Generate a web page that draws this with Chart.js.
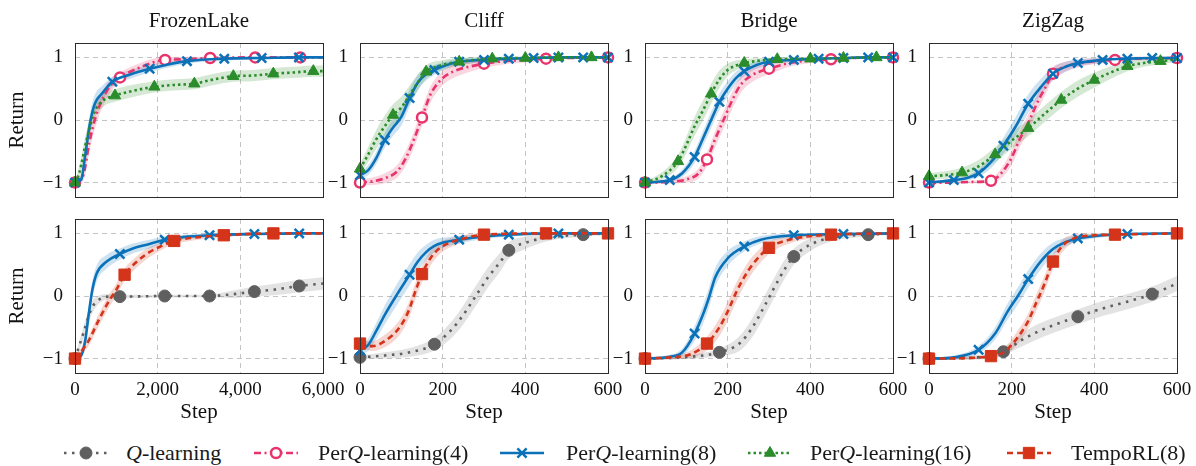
<!DOCTYPE html>
<html>
<head>
<meta charset="utf-8">
<script src="https://cdn.jsdelivr.net/npm/chart.js@4/dist/chart.umd.min.js"></script>
<style>
html, body { margin: 0; padding: 0; background: #fff; overflow: hidden; width: 1196px; height: 466px; }
canvas { position: absolute; }
.legtxt { position: absolute; font-family: 'Liberation Serif', 'Times New Roman', serif; font-size: 22px; color: #1a1a1a; white-space: nowrap; line-height: 24px; }
</style>
</head>
<body>
<script>
// ---- data ----
// x ticks
var lakeTicks = [0, 2000, 4000, 6000];
var stepTicks = [0, 200, 400, 600];
var yTicks = [-1, 0, 1];
var titles = ['FrozenLake', 'Cliff', 'Bridge', 'ZigZag'];
var legendNames = ['Q-learning', 'PerQ-learning(4)', 'PerQ-learning(8)', 'PerQ-learning(16)', 'TempoRL(8)'];

// FrozenLake, top row
var flTopP4X = [0, 200, 350, 500, 700, 900, 1090, 1500, 2180, 2700, 3270, 4360, 5450, 6000];
var flTopP4Y = [-1, -0.88, -0.35, 0.05, 0.38, 0.58, 0.68, 0.82, 0.96, 0.97, 0.99, 1, 1, 1];
var flTopP4Sd = [0.02, 0.1, 0.15, 0.15, 0.12, 0.1, 0.08, 0.07, 0.05, 0.04, 0.02, 0.01, 0.01, 0.01];
var flTopP4M = [0, 1090, 2180, 3270, 4360, 5450];
var flTopP8X = [0, 150, 250, 350, 450, 525, 650, 903, 1300, 1806, 2200, 2709, 3612, 4515, 5418, 6000];
var flTopP8Y = [-1, -0.95, -0.55, -0.1, 0.2, 0.32, 0.42, 0.61, 0.72, 0.82, 0.88, 0.94, 0.98, 0.99, 1, 1];
var flTopP8Sd = [0.02, 0.05, 0.12, 0.15, 0.15, 0.14, 0.12, 0.08, 0.07, 0.06, 0.05, 0.04, 0.03, 0.02, 0.01, 0.01];
var flTopP8M = [0, 903, 1806, 2709, 3612, 4515, 5418];
var flTopP16X = [0, 100, 280, 480, 700, 968, 1300, 1919, 2400, 2887, 3300, 3831, 4300, 4799, 5300, 5766, 6000];
var flTopP16Y = [-1, -0.85, -0.32, 0.14, 0.32, 0.39, 0.45, 0.53, 0.56, 0.58, 0.64, 0.7, 0.71, 0.74, 0.76, 0.78, 0.78];
var flTopP16Sd = [0.02, 0.1, 0.15, 0.12, 0.1, 0.1, 0.1, 0.09, 0.09, 0.09, 0.09, 0.09, 0.09, 0.09, 0.09, 0.09, 0.09];
var flTopP16M = [0, 968, 1919, 2887, 3831, 4799, 5766];

// Cliff, top row
var clTopP4X = [0, 30, 60, 90, 110, 130, 150, 170, 190, 210, 240, 270, 300, 350, 400, 450, 500, 600];
var clTopP4Y = [-1, -0.98, -0.93, -0.82, -0.62, -0.32, 0.04, 0.4, 0.6, 0.72, 0.81, 0.86, 0.9, 0.94, 0.96, 0.98, 0.99, 1];
var clTopP4Sd = [0.05, 0.06, 0.08, 0.1, 0.12, 0.13, 0.13, 0.13, 0.12, 0.11, 0.1, 0.08, 0.07, 0.05, 0.04, 0.03, 0.02, 0.01];
var clTopP4M = [0, 150, 300, 450, 600];
var clTopP8X = [0, 20, 40, 60, 80, 100, 120, 140, 160, 180, 210, 240, 300, 360, 420, 480, 540, 600];
var clTopP8Y = [-0.88, -0.8, -0.6, -0.32, -0.12, 0.05, 0.35, 0.6, 0.73, 0.8, 0.88, 0.93, 0.96, 0.98, 0.99, 1, 1, 1];
var clTopP8Sd = [0.06, 0.08, 0.1, 0.12, 0.13, 0.14, 0.14, 0.12, 0.1, 0.08, 0.06, 0.05, 0.04, 0.03, 0.02, 0.02, 0.01, 0.01];
var clTopP8M = [0, 60, 120, 180, 240, 300, 360, 420, 480, 540, 600];
var clTopP16X = [0, 20, 40, 60, 80, 100, 120, 140, 160, 200, 240, 320, 400, 480, 560, 600];
var clTopP16Y = [-0.78, -0.55, -0.3, -0.1, 0.08, 0.2, 0.4, 0.6, 0.77, 0.88, 0.93, 0.98, 0.99, 1, 1, 1];
var clTopP16Sd = [0.08, 0.12, 0.15, 0.17, 0.17, 0.17, 0.15, 0.13, 0.11, 0.08, 0.06, 0.03, 0.02, 0.01, 0.01, 0.01];
var clTopP16M = [0, 80, 160, 240, 320, 400, 480, 560];

// Bridge, top row
var brTopP4X = [0, 50, 100, 130, 150, 170, 190, 210, 230, 260, 300, 350, 400, 450, 500, 600];
var brTopP4Y = [-1, -0.99, -0.95, -0.85, -0.63, -0.3, 0.0, 0.3, 0.55, 0.72, 0.82, 0.91, 0.95, 0.97, 0.99, 1];
var brTopP4Sd = [0.02, 0.03, 0.05, 0.08, 0.11, 0.13, 0.14, 0.14, 0.13, 0.11, 0.09, 0.06, 0.04, 0.03, 0.02, 0.01];
var brTopP4M = [0, 150, 300, 450, 600];
var brTopP8X = [0, 60, 90, 120, 140, 160, 180, 200, 220, 240, 270, 300, 360, 420, 480, 540, 600];
var brTopP8Y = [-1, -0.96, -0.85, -0.59, -0.3, 0.0, 0.29, 0.5, 0.67, 0.78, 0.88, 0.93, 0.96, 0.98, 0.99, 1, 1];
var brTopP8Sd = [0.02, 0.03, 0.06, 0.1, 0.12, 0.13, 0.13, 0.12, 0.1, 0.08, 0.06, 0.05, 0.03, 0.02, 0.01, 0.01, 0.01];
var brTopP8M = [0, 60, 120, 180, 240, 300, 360, 420, 480, 540, 600];
var brTopP16X = [0, 40, 80, 100, 120, 140, 160, 180, 200, 220, 240, 320, 400, 480, 560, 600];
var brTopP16Y = [-1, -0.9, -0.66, -0.4, -0.1, 0.15, 0.42, 0.65, 0.8, 0.87, 0.91, 0.97, 0.98, 0.99, 1, 1];
var brTopP16Sd = [0.02, 0.06, 0.1, 0.13, 0.15, 0.16, 0.16, 0.14, 0.1, 0.08, 0.06, 0.03, 0.02, 0.01, 0.01, 0.01];
var brTopP16M = [0, 80, 160, 240, 320, 400, 480, 560];

// ZigZag, top row
var zzTopP4X = [0, 50, 100, 150, 175, 200, 220, 240, 260, 280, 300, 330, 360, 400, 450, 500, 600];
var zzTopP4Y = [-1, -1, -0.99, -0.97, -0.85, -0.6, -0.3, -0.05, 0.25, 0.5, 0.74, 0.85, 0.9, 0.94, 0.96, 0.98, 0.99];
var zzTopP4Sd = [0.02, 0.02, 0.02, 0.04, 0.08, 0.12, 0.13, 0.14, 0.13, 0.12, 0.1, 0.08, 0.06, 0.05, 0.04, 0.03, 0.02];
var zzTopP4M = [0, 150, 300, 450, 600];
var zzTopP8X = [0, 60, 90, 120, 150, 180, 210, 240, 270, 300, 330, 360, 420, 480, 540, 600];
var zzTopP8Y = [-1, -0.96, -0.93, -0.85, -0.67, -0.41, -0.1, 0.26, 0.52, 0.74, 0.85, 0.91, 0.96, 0.98, 0.99, 0.99];
var zzTopP8Sd = [0.02, 0.03, 0.04, 0.06, 0.1, 0.13, 0.15, 0.15, 0.13, 0.1, 0.08, 0.06, 0.04, 0.03, 0.02, 0.02];
var zzTopP8M = [0, 60, 120, 180, 240, 300, 360, 420, 480, 540, 600];
var zzTopP16X = [0, 40, 80, 120, 160, 200, 240, 280, 320, 360, 400, 440, 480, 520, 560, 600];
var zzTopP16Y = [-0.9, -0.88, -0.84, -0.74, -0.55, -0.33, -0.13, 0.1, 0.32, 0.5, 0.64, 0.76, 0.86, 0.91, 0.94, 0.97];
var zzTopP16Sd = [0.05, 0.06, 0.08, 0.1, 0.12, 0.13, 0.13, 0.13, 0.13, 0.13, 0.12, 0.1, 0.08, 0.06, 0.05, 0.04];
var zzTopP16M = [0, 80, 160, 240, 320, 400, 480, 560];

// FrozenLake, bottom row
var flBotQX = [0, 200, 400, 600, 800, 1085, 2170, 3255, 3700, 4340, 4800, 5425, 6000];
var flBotQY = [-1, -0.6, -0.2, -0.05, -0.01, -0.01, 0, 0, 0.02, 0.07, 0.1, 0.16, 0.2];
var flBotQSd = [0.02, 0.1, 0.1, 0.06, 0.04, 0.03, 0.02, 0.02, 0.05, 0.08, 0.09, 0.1, 0.1];
var flBotQM = [0, 1085, 2170, 3255, 4340, 5425];
var flBotP8X = [0, 150, 250, 330, 420, 525, 767, 1085, 1400, 1800, 2170, 2600, 3255, 4340, 5425, 6000];
var flBotP8Y = [-1, -0.95, -0.7, -0.3, 0.1, 0.36, 0.55, 0.67, 0.76, 0.83, 0.9, 0.94, 0.97, 0.99, 1, 1];
var flBotP8Sd = [0.02, 0.04, 0.1, 0.13, 0.14, 0.13, 0.11, 0.09, 0.08, 0.07, 0.05, 0.04, 0.03, 0.02, 0.01, 0.01];
var flBotP8M = [0, 1085, 2170, 3255, 4340, 5425];
var flBotTX = [0, 300, 600, 850, 1000, 1200, 1500, 1800, 2100, 2400, 3000, 3600, 4800, 6000];
var flBotTY = [-1, -0.75, -0.35, -0.05, 0.1, 0.34, 0.55, 0.7, 0.8, 0.88, 0.94, 0.97, 1, 1];
var flBotTSd = [0.03, 0.08, 0.1, 0.1, 0.1, 0.1, 0.09, 0.08, 0.06, 0.05, 0.04, 0.03, 0.01, 0.01];
var flBotTM = [0, 1200, 2400, 3600, 4800];

// Cliff, bottom row
var clBotQX = [0, 60, 120, 180, 220, 250, 280, 310, 340, 360, 400, 450, 540, 600];
var clBotQY = [-0.98, -0.95, -0.9, -0.77, -0.55, -0.3, 0.0, 0.3, 0.55, 0.73, 0.85, 0.93, 0.98, 1];
var clBotQSd = [0.03, 0.05, 0.07, 0.1, 0.13, 0.15, 0.16, 0.16, 0.15, 0.13, 0.1, 0.06, 0.03, 0.02];
var clBotQM = [0, 180, 360, 540];
var clBotP8X = [0, 20, 40, 60, 90, 120, 140, 160, 180, 200, 240, 300, 360, 480, 600];
var clBotP8Y = [-0.87, -0.78, -0.55, -0.3, 0.03, 0.34, 0.55, 0.7, 0.8, 0.85, 0.9, 0.95, 0.98, 1, 1];
var clBotP8Sd = [0.06, 0.1, 0.13, 0.15, 0.17, 0.17, 0.15, 0.12, 0.1, 0.08, 0.06, 0.04, 0.03, 0.01, 0.01];
var clBotP8M = [0, 120, 240, 360, 480, 600];
var clBotTX = [0, 30, 60, 97, 120, 130, 150, 170, 190, 210, 240, 300, 450, 600];
var clBotTY = [-0.76, -0.8, -0.72, -0.49, -0.2, 0.0, 0.35, 0.6, 0.75, 0.83, 0.9, 0.98, 1, 1];
var clBotTSd = [0.05, 0.08, 0.1, 0.12, 0.13, 0.13, 0.13, 0.12, 0.1, 0.08, 0.06, 0.03, 0.01, 0.01];
var clBotTM = [0, 150, 300, 450, 600];

// Bridge, bottom row
var brBotQX = [0, 90, 180, 230, 260, 290, 310, 340, 360, 400, 450, 540, 600];
var brBotQY = [-1, -0.98, -0.9, -0.75, -0.5, -0.15, 0.1, 0.45, 0.63, 0.82, 0.93, 0.98, 1];
var brBotQSd = [0.02, 0.03, 0.06, 0.12, 0.15, 0.16, 0.16, 0.15, 0.13, 0.1, 0.06, 0.03, 0.02];
var brBotQM = [0, 180, 360, 540];
var brBotP8X = [0, 60, 90, 120, 140, 155, 170, 200, 240, 280, 360, 480, 600];
var brBotP8Y = [-1, -0.97, -0.9, -0.6, -0.3, -0.02, 0.3, 0.6, 0.79, 0.9, 0.97, 0.99, 1];
var brBotP8Sd = [0.02, 0.03, 0.06, 0.12, 0.15, 0.16, 0.15, 0.12, 0.08, 0.06, 0.03, 0.02, 0.01];
var brBotP8M = [0, 120, 240, 360, 480, 600];
var brBotTX = [0, 60, 110, 150, 180, 200, 220, 240, 260, 300, 350, 450, 600];
var brBotTY = [-1, -0.98, -0.93, -0.76, -0.5, -0.25, 0.05, 0.3, 0.5, 0.77, 0.9, 0.98, 1];
var brBotTSd = [0.02, 0.03, 0.06, 0.11, 0.14, 0.15, 0.15, 0.14, 0.13, 0.1, 0.06, 0.03, 0.01];
var brBotTM = [0, 150, 300, 450, 600];

// ZigZag, bottom row
var zzBotQX = [0, 90, 180, 220, 260, 300, 360, 420, 480, 540, 600];
var zzBotQY = [-1, -0.99, -0.89, -0.72, -0.58, -0.47, -0.33, -0.2, -0.09, 0.03, 0.2];
var zzBotQSd = [0.02, 0.03, 0.06, 0.1, 0.12, 0.12, 0.12, 0.12, 0.12, 0.12, 0.12];
var zzBotQM = [0, 180, 360, 540];
var zzBotP8X = [0, 60, 120, 160, 190, 215, 240, 270, 300, 330, 360, 420, 480, 600];
var zzBotP8Y = [-1, -0.98, -0.86, -0.6, -0.25, 0.0, 0.27, 0.55, 0.75, 0.86, 0.92, 0.97, 0.99, 1];
var zzBotP8Sd = [0.02, 0.03, 0.06, 0.1, 0.13, 0.14, 0.14, 0.13, 0.1, 0.07, 0.05, 0.03, 0.02, 0.01];
var zzBotP8M = [0, 120, 240, 360, 480, 600];
var zzBotTX = [0, 100, 150, 180, 210, 240, 260, 280, 300, 320, 350, 400, 450, 600];
var zzBotTY = [-1, -0.99, -0.96, -0.9, -0.7, -0.4, -0.1, 0.2, 0.55, 0.78, 0.92, 0.97, 0.98, 1];
var zzBotTSd = [0.02, 0.02, 0.03, 0.06, 0.1, 0.12, 0.13, 0.13, 0.12, 0.1, 0.06, 0.03, 0.02, 0.01];
var zzBotTM = [0, 150, 300, 450, 600];

// ---- styles / layout ----
var FONT = "'Liberation Serif', 'Times New Roman', serif";
var styles = {
  q:   { color: '#5f5f5f', fill: '#5f5f5f', band: 'rgba(128,128,128,0.22)', dash: [2.5, 5.5], point: 'circle', r: 6, pbw: 1 },
  p4:  { color: '#e8336b', fill: '#ffffff', band: 'rgba(232,51,107,0.2)', dash: [7, 3.5, 2, 3.5], point: 'circle', r: 5, pbw: 2.5 },
  p8:  { color: '#0b72b9', fill: '#0b72b9', band: 'rgba(11,114,185,0.2)', dash: [], point: 'crossRot', r: 6.5, pbw: 2.5 },
  p16: { color: '#2a8c2a', fill: '#2a8c2a', band: 'rgba(42,140,42,0.2)', dash: [2.5, 3], point: 'triangle', r: 6.5, pbw: 1 },
  t:   { color: '#d4341a', fill: '#d4341a', band: 'rgba(212,52,26,0.2)', dash: [6, 4], point: 'rect', r: 8, pbw: 1 }
};
var legendKeys = ['q', 'p4', 'p8', 'p16', 't'];
var plotLeft = [75, 360, 645, 929];
var plotW = 248, plotH = 154;
var yAxisW = 75, rightPad = 30;

function seriesSets(key, xs, ys, sd, marks, rank) {
  var st = styles[key];
  var mid = xs.map(function (x, i) { return { x: x, y: ys[i] }; });
  var lo = xs.map(function (x, i) { return { x: x, y: ys[i] - sd[i] }; });
  var hi = xs.map(function (x, i) { return { x: x, y: ys[i] + sd[i] }; });
  return [
    { data: lo, borderColor: 'rgba(0,0,0,0)', borderWidth: 0, pointRadius: 0, fill: false, order: 30, cubicInterpolationMode: 'monotone' },
    { data: hi, borderColor: 'rgba(0,0,0,0)', borderWidth: 0, pointRadius: 0, fill: '-1', backgroundColor: st.band, order: 30, cubicInterpolationMode: 'monotone' },
    {
      data: mid, borderColor: st.color, borderWidth: 2.6, borderDash: st.dash, borderCapStyle: 'butt',
      cubicInterpolationMode: 'monotone', fill: false, order: 10 - rank, clip: 10,
      pointStyle: st.point,
      pointRadius: function (c) { return marks.indexOf(c.raw.x) >= 0 ? st.r : 0; },
      pointBackgroundColor: st.fill, pointBorderColor: st.color, pointBorderWidth: st.pbw
    }
  ];
}

var framePlugin = {
  id: 'frame',
  afterDatasetsDraw: function (chart) {
    var a = chart.chartArea, ctx = chart.ctx;
    ctx.save();
    ctx.strokeStyle = '#2b2b2b';
    ctx.lineWidth = 1;
    ctx.setLineDash([]);
    ctx.strokeRect(Math.round(a.left) + 0.5, Math.round(a.top) + 0.5, Math.round(a.right - a.left), Math.round(a.bottom - a.top));
    ctx.restore();
  }
};

var panels = [
  { col: 0, row: 0, xMax: 6000, ticks: lakeTicks, series: [['p4', flTopP4X, flTopP4Y, flTopP4Sd, flTopP4M], ['p8', flTopP8X, flTopP8Y, flTopP8Sd, flTopP8M], ['p16', flTopP16X, flTopP16Y, flTopP16Sd, flTopP16M]] },
  { col: 1, row: 0, xMax: 600, ticks: stepTicks, series: [['p4', clTopP4X, clTopP4Y, clTopP4Sd, clTopP4M], ['p8', clTopP8X, clTopP8Y, clTopP8Sd, clTopP8M], ['p16', clTopP16X, clTopP16Y, clTopP16Sd, clTopP16M]] },
  { col: 2, row: 0, xMax: 600, ticks: stepTicks, series: [['p4', brTopP4X, brTopP4Y, brTopP4Sd, brTopP4M], ['p8', brTopP8X, brTopP8Y, brTopP8Sd, brTopP8M], ['p16', brTopP16X, brTopP16Y, brTopP16Sd, brTopP16M]] },
  { col: 3, row: 0, xMax: 600, ticks: stepTicks, series: [['p4', zzTopP4X, zzTopP4Y, zzTopP4Sd, zzTopP4M], ['p8', zzTopP8X, zzTopP8Y, zzTopP8Sd, zzTopP8M], ['p16', zzTopP16X, zzTopP16Y, zzTopP16Sd, zzTopP16M]] },
  { col: 0, row: 1, xMax: 6000, ticks: lakeTicks, series: [['q', flBotQX, flBotQY, flBotQSd, flBotQM], ['p8', flBotP8X, flBotP8Y, flBotP8Sd, flBotP8M], ['t', flBotTX, flBotTY, flBotTSd, flBotTM]] },
  { col: 1, row: 1, xMax: 600, ticks: stepTicks, series: [['q', clBotQX, clBotQY, clBotQSd, clBotQM], ['p8', clBotP8X, clBotP8Y, clBotP8Sd, clBotP8M], ['t', clBotTX, clBotTY, clBotTSd, clBotTM]] },
  { col: 2, row: 1, xMax: 600, ticks: stepTicks, series: [['q', brBotQX, brBotQY, brBotQSd, brBotQM], ['p8', brBotP8X, brBotP8Y, brBotP8Sd, brBotP8M], ['t', brBotTX, brBotTY, brBotTSd, brBotTM]] },
  { col: 3, row: 1, xMax: 600, ticks: stepTicks, series: [['q', zzBotQX, zzBotQY, zzBotQSd, zzBotQM], ['p8', zzBotP8X, zzBotP8Y, zzBotP8Sd, zzBotP8M], ['t', zzBotTX, zzBotTY, zzBotTSd, zzBotTM]] }
];

panels.forEach(function (p) {
  var top = p.row === 0;
  var cv = document.createElement('canvas');
  var topSpace = top ? 43 : 14;
  var bottomSpace = top ? 10 : 55;
  cv.width = yAxisW + plotW + rightPad;
  cv.height = topSpace + plotH + bottomSpace;
  cv.style.left = (plotLeft[p.col] - yAxisW) + 'px';
  cv.style.top = (top ? 0 : 219 - 14) + 'px';
  document.body.appendChild(cv);

  var datasets = [];
  p.series.forEach(function (s, i) {
    datasets = datasets.concat(seriesSets(s[0], s[1], s[2], s[3], s[4], i));
  });

  new Chart(cv, {
    type: 'line',
    data: { datasets: datasets },
    plugins: [framePlugin],
    options: {
      responsive: false,
      animation: false,
      events: [],
      layout: { padding: { left: 0, right: rightPad, top: top ? 0 : 14, bottom: 0 } },
      plugins: {
        legend: { display: false },
        tooltip: { enabled: false },
        title: {
          display: top, text: titles[p.col], fullSize: false,
          color: '#111', font: { family: FONT, size: 21, weight: 'normal', lineHeight: 1.2 },
          padding: { top: 9, bottom: 8.8 }
        }
      },
      scales: {
        x: {
          type: 'linear', min: 0, max: p.xMax,
          afterBuildTicks: function (s) { s.ticks = p.ticks.map(function (v) { return { value: v }; }); },
          afterFit: function (s) { s.height = bottomSpace; s.paddingLeft = 0; s.paddingRight = 0; },
          grid: { color: '#c4c4c4', lineWidth: 1, drawTicks: false },
          border: { display: false, dash: [5, 4] },
          ticks: {
            display: !top, padding: 6, color: '#111', maxRotation: 0,
            font: { family: FONT, size: 19 },
            callback: function (v) { return Number(v).toLocaleString('en-US'); }
          },
          title: { display: !top, text: 'Step', color: '#111', font: { family: FONT, size: 21 }, padding: { top: 0, bottom: 3 } }
        },
        y: {
          min: -1.23, max: 1.23,
          afterBuildTicks: function (s) { s.ticks = yTicks.map(function (v) { return { value: v }; }); },
          afterFit: function (s) { s.width = yAxisW; s.paddingTop = 0; s.paddingBottom = 0; },
          grid: { color: '#c4c4c4', lineWidth: 1, drawTicks: false },
          border: { display: false, dash: [5, 4] },
          ticks: {
            padding: 12, color: '#111', font: { family: FONT, size: 19 },
            callback: function (v) { return v < 0 ? '\u2212' + Math.abs(v) : String(v); }
          },
          title: { display: p.col === 0, text: 'Return', color: '#111', font: { family: FONT, size: 21 }, padding: { top: 5, bottom: 0 } }
        }
      }
    }
  });
});

// ---- legend (HTML, swatches styled like the datasets) ----
var legSwatchX = [63, 253, 499, 747, 1006];
var legTextX = [126, 318, 566, 810, 1071];
legendKeys.forEach(function (k, i) {
  var st = styles[k];
  var sw = document.createElement('canvas');
  sw.width = 46; sw.height = 24;
  sw.style.left = legSwatchX[i] + 'px';
  sw.style.top = '441px';
  document.body.appendChild(sw);
  var ctx = sw.getContext('2d');
  ctx.strokeStyle = st.color;
  ctx.lineWidth = 2.6;
  ctx.setLineDash(st.dash);
  ctx.beginPath(); ctx.moveTo(1, 12); ctx.lineTo(45, 12); ctx.stroke();
  ctx.setLineDash([]);
  ctx.fillStyle = st.fill;
  ctx.lineWidth = st.pbw;
  Chart.helpers.drawPoint(ctx, { pointStyle: st.point, radius: st.r, rotation: 0, borderWidth: st.pbw }, 23, 12);

  var tx = document.createElement('div');
  tx.className = 'legtxt';
  tx.style.left = legTextX[i] + 'px';
  tx.style.top = '441px';
  tx.innerHTML = legendNames[i].replace('Q', '<i>Q</i>');
  document.body.appendChild(tx);
});
</script>
</body>
</html>
